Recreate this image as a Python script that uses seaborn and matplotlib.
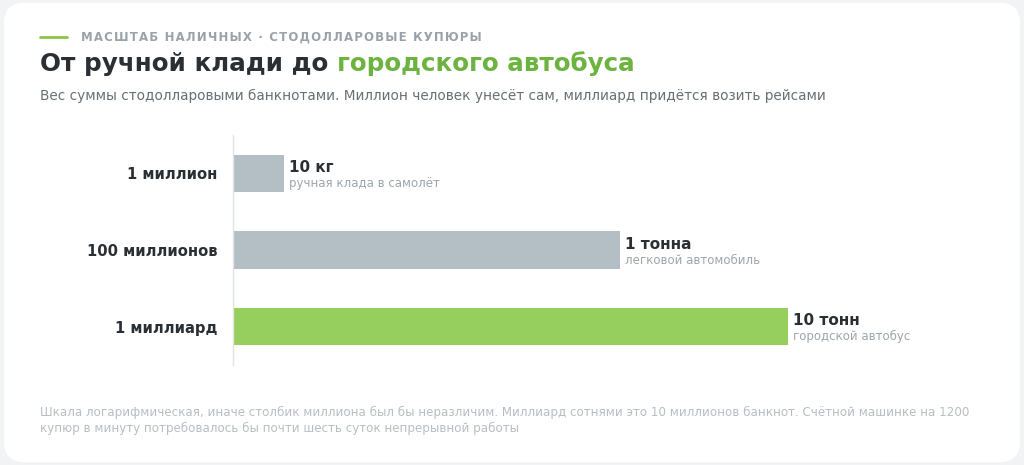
import matplotlib.pyplot as plt
import seaborn as sns
import pandas as pd
from matplotlib.patches import FancyBboxPatch
from matplotlib.lines import Line2D

## data
amounts = ["1 миллион", "100 миллионов", "1 миллиард"]
weights_kg = [10, 1000, 10000]
weight_labels = ["10 кг", "1 тонна", "10 тонн"]
comparisons = ["ручная клада в самолёт", "легковой автомобиль", "городской автобус"]
bar_colors = ["#b3bec5", "#b3bec5", "#97cf5e"]

df = pd.DataFrame({"amount": amounts, "kg": weights_kg})

sns.set_theme(style="white")
plt.rcParams["font.family"] = ["DejaVu Sans"]

dark = "#2a2f33"
green = "#6db33f"

fig = plt.figure(figsize=(10.24, 4.65), dpi=100)
fig.patch.set_facecolor("#f2f3f4")
card = FancyBboxPatch((0.004, 0.006), 0.992, 0.988, boxstyle="round,pad=0,rounding_size=0.02",
                      transform=fig.transFigure, facecolor="white", edgecolor="none",
                      mutation_aspect=1024 / 465, zorder=-5)
fig.patches.append(card)

ax = fig.add_axes([233 / 1024, 100 / 465, 722.6 / 1024, 230 / 465])
ax.set_facecolor("none")
ax.set_zorder(2)

sns.barplot(data=df, x="kg", y="amount", hue="amount", palette=bar_colors, saturation=1,
            legend=False, orient="h", width=0.49, linewidth=0, log_scale=True, ax=ax)

ax.set_xscale("log")
ax.set_xlim(5, 1e5)
ax.set_ylim(2.5, -0.5)
ax.set_xticks([])
ax.set_xticks([], minor=True)
ax.set_xlabel("")
ax.set_ylabel("")
for s in ["top", "right", "bottom"]:
    ax.spines[s].set_visible(False)
ax.spines["left"].set_color("#e0e4e7")
ax.spines["left"].set_linewidth(1)
ax.tick_params(axis="y", length=0, pad=11)
ax.set_yticks(range(len(amounts)))
ax.set_yticklabels(amounts, fontsize=10.6, fontweight="bold", color=dark)

# value labels to the right of each bar
for i, (w, lab, cmp) in enumerate(zip(weights_kg, weight_labels, comparisons)):
    ax.annotate(lab, (w, i), xytext=(3.6, 4.3), textcoords="offset points",
                ha="left", va="center", fontsize=11, fontweight="bold", color=dark)
    ax.annotate(cmp, (w, i), xytext=(3.6, -7.3), textcoords="offset points",
                ha="left", va="center", fontsize=8.5, color="#9ea6ac")

# header
fig.add_artist(Line2D([40 / 1024, 67 / 1024], [1 - 37 / 465] * 2, color="#8cc63f", lw=2))
kicker = "МАСШТАБ НАЛИЧНЫХ · СТОДОЛЛАРОВЫЕ КУПЮРЫ"
fig.text(81 / 1024, 1 - 37 / 465, "\u200a".join(kicker), fontsize=8.5, fontweight="bold",
         color="#9aa2a9", va="center", ha="left")
t1 = fig.text(40 / 1024, 1 - 64 / 465, "От ручной клади до ", fontsize=17.7,
              fontweight="bold", color=dark, va="center", ha="left")
fig.canvas.draw()
bb = t1.get_window_extent()
fig.text(bb.x1 / 1024, 1 - 64 / 465, "городского автобуса", fontsize=17.7,
         fontweight="bold", color=green, va="center", ha="left")
fig.text(40 / 1024, 1 - 96 / 465,
         "Вес суммы стодолларовыми банкнотами. Миллион человек унесёт сам, миллиард придётся возить рейсами",
         fontsize=9.8, color="#687076", va="center", ha="left")

# footnote
fig.text(40 / 1024, 1 - 406 / 465,
         "Шкала логарифмическая, иначе столбик миллиона был бы неразличим. Миллиард сотнями это 10 миллионов банкнот. Счётной машинке на 1200\n"
         "купюр в минуту потребовалось бы почти шесть суток непрерывной работы",
         fontsize=8.55, color="#b7bec4", va="top", ha="left", linespacing=1.3)

fig.savefig("out.png", dpi=100, facecolor=fig.get_facecolor())
